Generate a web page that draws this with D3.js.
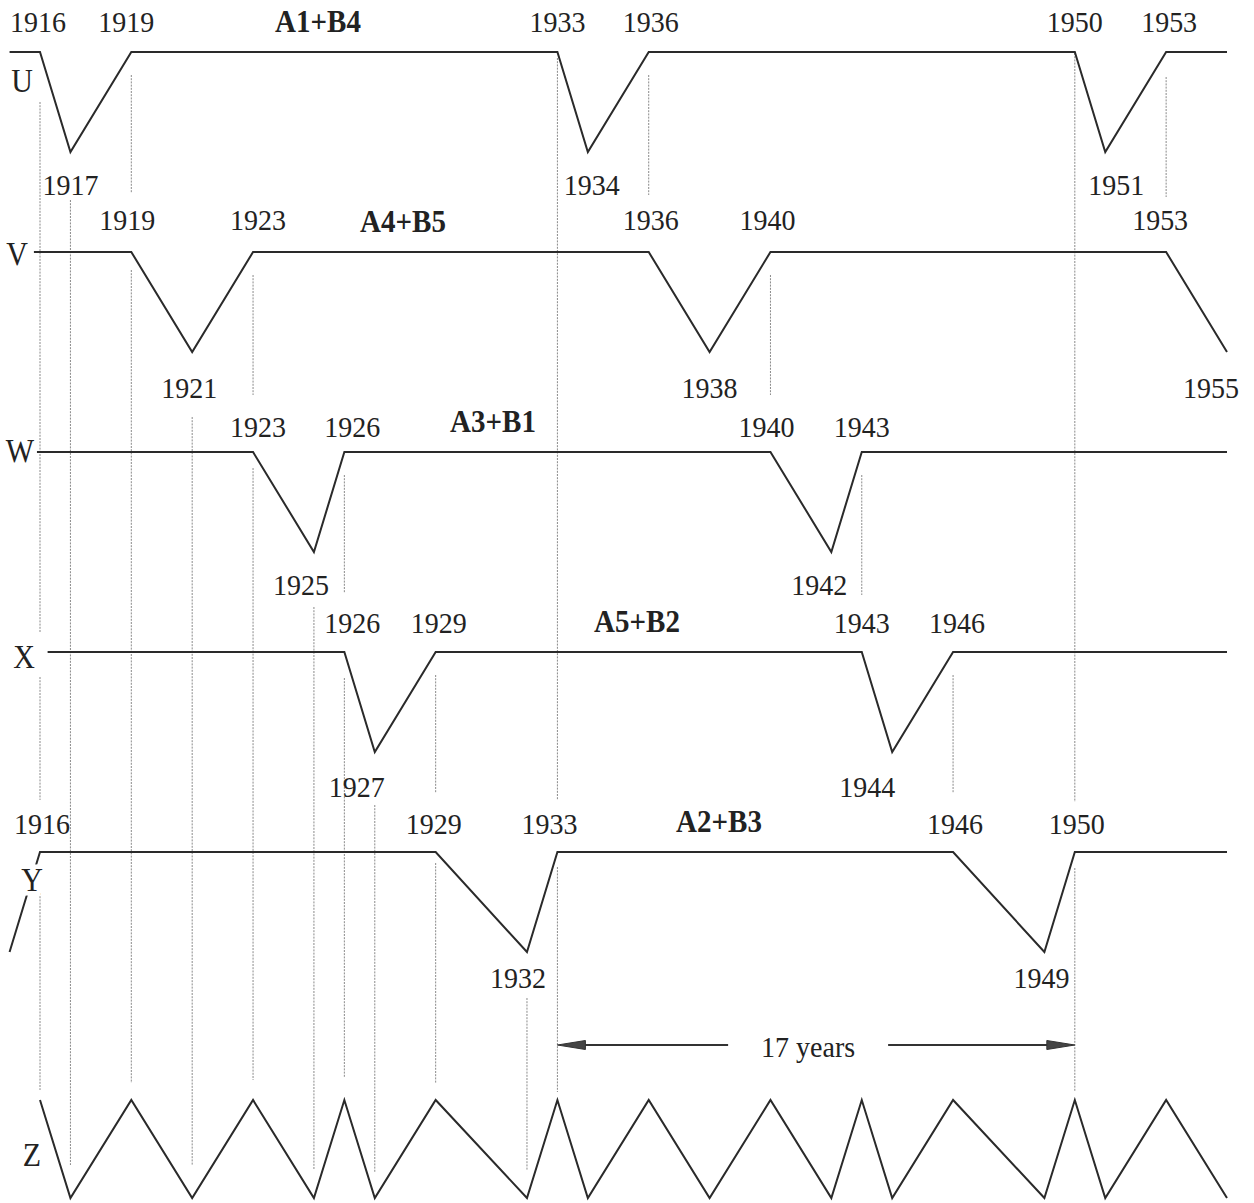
<!DOCTYPE html>
<html><head><meta charset="utf-8">
<script src="https://cdn.jsdelivr.net/npm/d3@7"></script>
<style>body{margin:0;background:#fff}svg{display:block}</style>
</head><body>
<svg id="chart" width="1254" height="1203"></svg>
<script>
// ---------- data ----------
const rowLabels = ["U", "V", "W", "X", "Y"];
const groupLabels = ["A1+B4", "A4+B5", "A3+B1", "A5+B2", "A2+B3"];
// each dip: [start year (top), trough year, end year (top)]
const dipsU = [[1916, 1917, 1919], [1933, 1934, 1936], [1950, 1951, 1953]];
const dipsV = [[1919, 1921, 1923], [1936, 1938, 1940], [1953, 1955, null]];
const dipsW = [[1923, 1925, 1926], [1940, 1942, 1943]];
const dipsX = [[1926, 1927, 1929], [1943, 1944, 1946]];
const dipsY = [[null, 1915, 1916], [1929, 1932, 1933], [1946, 1949, 1950]];
const rowStartYears = [1915, 1915.8, 1915.9, 1916.25, 1915];
const rowEndYear = 1955;
const zLabel = "Z";
const zPeaks = [1916, 1919, 1923, 1926, 1929, 1933, 1936, 1940, 1943, 1946, 1950, 1953];
const zTroughs = [1917, 1921, 1925, 1927, 1932, 1934, 1938, 1942, 1944, 1949, 1951, 1955];
const spanYears = [1933, 1950];
const spanLabel = "17 years";
// guide segments: [year, from level, to level] (levels in row units)
const guideSegments = [
  [1916, 0.25, 2.905], [1916, 3.125, 3.74], [1916, 4.205, 5.19],
  [1917, 0.74, 5.565],
  [1919, 0.115, 0.705], [1919, 1.09, 5.155],
  [1921, 1.825, 5.565],
  [1923, 1.115, 1.715], [1923, 2.08, 5.14],
  [1925, 2.775, 5.59],
  [1926, 2.115, 2.705], [1926, 3.13, 5.13],
  [1927, 3.765, 5.6],
  [1929, 3.115, 3.705], [1929, 4.055, 5.155],
  [1932, 4.73, 5.59],
  [1933, 0.03, 3.74], [1933, 4.075, 5.2],
  [1936, 0.115, 0.715],
  [1940, 1.115, 1.715],
  [1943, 2.115, 2.715],
  [1946, 3.115, 3.705],
  [1950, 0.005, 3.75], [1950, 4.08, 5.2],
  [1953, 0.125, 0.725]
];

// ---------- layout ----------
const allDips = [dipsU, dipsV, dipsW, dipsX, dipsY];
const aboveOffset = [20, 22, 15, 19, 18];
const belowOffset = [43, 46, 43, 45, 36];
const groupLabelX = [318, 403, 493, 637, 719];
const rowLabelPos = [[22, 40], [17, 13], [20, 10], [24, 16], [32, 39]]; // x, dy from row line
const zLevels = {peak: 5.24, trough: 5.73, labelDy: 1166};
const nudges = {
  "0-1916": -2, "0-1919": -5, "0-1936": 2, "0-1953": 3, "0-t1934": 4, "0-t1951": 11,
  "1-1919": -4, "1-1923": 5, "1-1936": 2, "1-1940": -3, "1-1953": -6, "1-t1921": -3, "1-t1955": -16,
  "2-1923": 5, "2-1926": 8, "2-1940": -4, "2-t1925": -13, "2-t1942": -12,
  "3-1926": 8, "3-1929": 3, "3-1946": 4, "3-t1927": -18, "3-t1944": -25,
  "4-1916": 2, "4-1929": -2, "4-1933": -8, "4-1946": 2, "4-1950": 2, "4-t1932": -9, "4-t1949": -3
};

const FONT = "'Liberation Serif', 'Times New Roman', serif";
const FS = 28, SY = 1.08;
const LINE = "#2a2a2a", TXT = "#222";

const svg = d3.select("#chart");
const x = d3.scaleLinear().domain([1916, 1955]).range([40, 1227]);
const y = d3.scaleLinear().domain([0, 5]).range([52, 1052]);

function label(g, px, py, str, opts) {
  opts = opts || {};
  const t = g.append("text")
    .attr("transform", `translate(${px},${py}) scale(1,${opts.sy || SY})`)
    .attr("text-anchor", "middle")
    .attr("font-family", FONT)
    .attr("font-size", opts.size || (opts.bold ? 29 : FS))
    .attr("font-weight", opts.bold ? "bold" : "normal")
    .attr("fill", TXT)
    .text(str);
  if (opts.halo) t.attr("stroke", "#fff").attr("stroke-width", 8).attr("paint-order", "stroke");
  return t;
}

// guides
const gGuide = svg.append("g");
gGuide.selectAll("line").data(guideSegments).join("line")
  .attr("x1", d => x(d[0])).attr("x2", d => x(d[0]))
  .attr("y1", d => y(d[1])).attr("y2", d => y(d[2]))
  .attr("stroke", "#8a8a8a").attr("stroke-width", 1)
  .attr("stroke-dasharray", "2,1.2");

// rows
const lineGen = d3.line().x(d => x(d[0])).y(d => y(d[1]));
const gRows = svg.append("g");
allDips.forEach((dips, i) => {
  const pts = [];
  if (dips[0][0] !== null) pts.push([rowStartYears[i], i]);
  dips.forEach(([s, t, e]) => {
    if (s !== null) pts.push([s, i]);
    pts.push([t, i + 0.5]);
    if (e !== null) pts.push([e, i]);
  });
  if (dips[dips.length - 1][2] !== null) pts.push([rowEndYear, i]);
  gRows.append("path").attr("d", lineGen(pts))
    .attr("fill", "none").attr("stroke", LINE).attr("stroke-width", 2)
    .attr("stroke-linejoin", "miter");

  const gl = svg.append("g");
  dips.forEach(([s, t, e]) => {
    [s, e].forEach(yr => {
      if (yr === null) return;
      label(gl, x(yr) + (nudges[i + "-" + yr] || 0), y(i) - aboveOffset[i], String(yr));
    });
    if (s !== null) {
      label(gl, x(t) + (nudges[i + "-t" + t] || 0), y(i + 0.5) + belowOffset[i], String(t));
    }
  });
  label(gl, groupLabelX[i], y(i) - 20, groupLabels[i], {bold: true});
  label(gl, rowLabelPos[i][0], y(i) + rowLabelPos[i][1], rowLabels[i], {halo: true, size: 30, sy: 1.15});
});

// Z zigzag
const zPts = [];
zPeaks.forEach((p, k) => {
  zPts.push([p, zLevels.peak]);
  if (zTroughs[k] !== undefined) zPts.push([zTroughs[k], zLevels.trough]);
});
svg.append("path").attr("d", lineGen(zPts))
  .attr("fill", "none").attr("stroke", LINE).attr("stroke-width", 2);
label(svg, 32, zLevels.labelDy, zLabel, {size: 30, sy: 1.15});

// 17-year span arrow
const ay = y(4.965);
const xa = x(spanYears[0]), xb = x(spanYears[1]);
const tx = (xa + xb) / 2 - 8;
const gA = svg.append("g").attr("stroke", "#333").attr("fill", "#444");
gA.append("line").attr("x1", xa + 20).attr("x2", tx - 80).attr("y1", ay).attr("y2", ay).attr("stroke-width", 2);
gA.append("line").attr("x1", tx + 80).attr("x2", xb - 20).attr("y1", ay).attr("y2", ay).attr("stroke-width", 2);
gA.append("path").attr("d", `M${xa},${ay}L${xa + 28},${ay - 4.5}L${xa + 28},${ay + 4.5}Z`).attr("stroke-width", 1);
gA.append("path").attr("d", `M${xb},${ay}L${xb - 28},${ay - 4.5}L${xb - 28},${ay + 4.5}Z`).attr("stroke-width", 1);
label(svg, tx, ay + 12, spanLabel);
</script>
</body></html>
